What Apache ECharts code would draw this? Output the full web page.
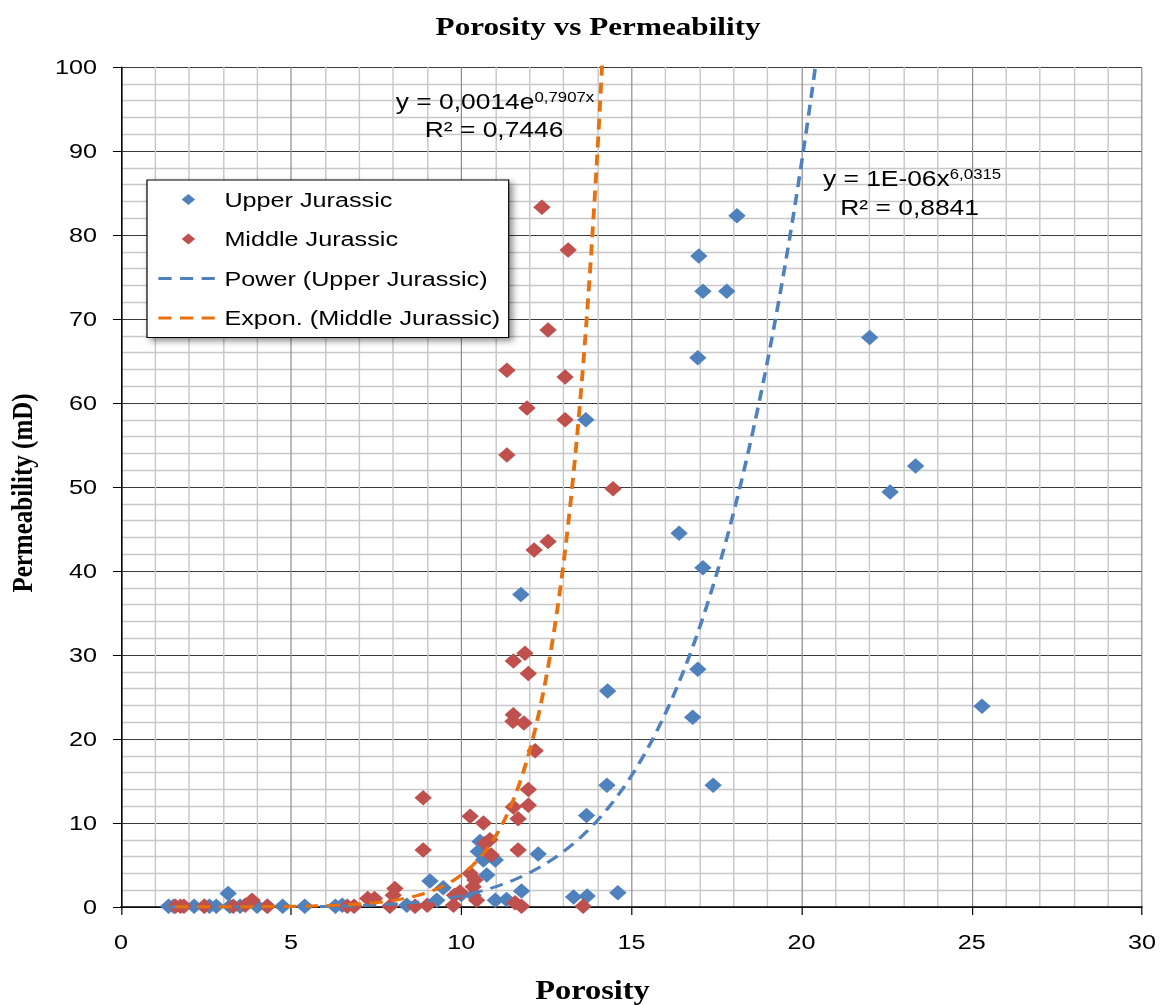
<!DOCTYPE html>
<html>
<head>
<meta charset="utf-8">
<title>Porosity vs Permeability</title>
<script src="https://cdn.jsdelivr.net/npm/echarts@6/dist/echarts.min.js"></script>
<style>
  html, body { margin: 0; padding: 0; background: #ffffff; overflow: hidden; }
  #wrap { width: 1164px; height: 1005px; overflow: hidden; }
  /* the chart is laid out on a narrower canvas and widened 1.2x */
  #chart { width: 970px; height: 1005px; transform: scaleX(1.2); transform-origin: 0 0; }
</style>
</head>
<body>
<div id="wrap"><div id="chart"></div></div>
<script>
// ---- Core samples: porosity (%) and permeability (mD) ----
const upperJurassic = [
  [1.40, 0.1], [1.55, 0.1], [2.15, 0.1], [2.45, 0.1], [2.60, 0.1], [2.80, 0.1],
  [3.15, 1.6], [3.20, 0.1], [3.50, 0.1], [4.00, 0.1], [4.30, 0.1], [4.75, 0.1],
  [5.40, 0.1], [6.30, 0.1], [6.50, 0.2], [8.40, 0.2],
  [9.08, 3.1], [9.28, 0.8], [9.47, 2.3], [10.00, 1.5], [10.35, 1.4], [10.50, 6.6],
  [10.55, 7.8], [10.65, 5.6], [10.75, 3.8], [11.00, 5.6], [11.00, 0.8], [11.33, 0.9],
  [11.75, 37.2], [11.77, 1.9], [12.26, 6.3], [13.30, 1.2], [13.68, 10.9], [13.70, 1.3],
  [13.66, 58.0], [14.28, 14.5], [14.30, 25.7], [14.60, 1.7], [16.40, 44.5], [16.80, 22.6],
  [16.95, 28.3], [16.95, 65.4], [16.98, 77.5], [17.10, 40.4], [17.10, 73.3], [17.40, 14.5],
  [17.80, 73.3], [18.10, 82.3], [22.00, 67.8], [22.60, 49.4], [23.35, 52.5], [25.30, 23.9]
];

const middleJurassic = [
  [1.60, 0.1], [1.75, 0.1], [1.85, 0.1], [2.45, 0.1], [3.30, 0.1], [3.65, 0.2],
  [3.85, 0.8], [4.30, 0.1], [6.65, 0.1], [6.85, 0.1], [7.25, 1.0], [7.45, 1.0],
  [7.90, 0.1], [8.00, 1.4], [8.05, 2.2], [8.64, 0.1], [8.88, 13.0], [8.88, 6.8],
  [9.00, 0.2], [9.77, 0.2], [9.80, 1.4], [9.96, 1.8], [10.26, 10.8], [10.26, 4.0],
  [10.35, 2.4], [10.40, 3.2], [10.45, 0.8], [10.65, 10.0], [10.70, 7.6], [10.84, 8.0],
  [10.88, 6.2], [11.34, 53.8], [11.34, 63.9], [11.53, 11.9], [11.53, 29.3], [11.53, 22.9],
  [11.52, 22.1], [11.58, 0.5], [11.67, 10.5], [11.67, 6.8], [11.77, 0.1], [11.84, 21.9],
  [11.87, 30.2], [11.93, 59.4], [11.97, 27.8], [11.97, 12.1], [11.97, 14.0], [12.14, 42.5],
  [12.17, 18.6], [12.37, 83.3], [12.55, 68.7], [12.55, 43.5], [13.05, 63.1], [13.05, 58.0],
  [13.14, 78.2], [13.58, 0.1], [14.46, 49.8]
];

// ---- Fitted trend lines ----
// power fit for Upper Jurassic (coefficient shown rounded as 1E-06 in its label)
const POWER_COEF = 1.26e-6;
const POWER_EXP = 6.0315;
// exponential fit for Middle Jurassic
const EXPON_COEF = 0.0014;
const EXPON_RATE = 0.7907;

const seriesNames = ['Upper Jurassic', 'Middle Jurassic', 'Power (Upper Jurassic)', 'Expon. (Middle Jurassic)'];
const xTicks = { min: 0, max: 30, step: 5 };
const yTicks = { min: 0, max: 100, step: 10 };

// sample a fitted curve across the x-range of its data set
function trend(points, fn) {
  const xs = points.map(p => p[0]);
  const x0 = Math.min(...xs), x1 = Math.max(...xs);
  const out = [];
  const n = 600;
  for (let i = 0; i <= n; i++) {
    const x = x0 + (x1 - x0) * i / n;
    const y = fn(x);
    out.push([x, y]);
    if (y > yTicks.max) break;
  }
  return out;
}
const powerLine = trend(upperJurassic, x => POWER_COEF * Math.pow(x, POWER_EXP));
const exponLine = trend(middleJurassic, x => EXPON_COEF * Math.exp(EXPON_RATE * x));

const BLUE = '#4F81BD';
const RED = '#C0504D';
const ORANGE = '#E8710F';
const SANS = "'Liberation Sans', Arial, sans-serif";
const SERIF = "'Liberation Serif', 'Times New Roman', serif";

// legend marker: a small diamond centred in a 50x12 icon box
// (two hair-thin corner specks fix the box so the diamond is not stretched)
const LEGEND_DIAMOND = 'path://M0,0h0.01v0.01h-0.01z M50,12h-0.01v-0.01h0.01z M25,0.4L30.6,6L25,11.6L19.4,6z';

const chart = echarts.init(document.getElementById('chart'), null, { renderer: 'svg' });

const supStyle = { fontFamily: SANS, fontSize: 14, fill: '#000', color: '#000', verticalAlign: 'top', padding: [0, 0, 6, 0] };
const mainStyle = { fontFamily: SANS, fontSize: 22, fill: '#000', color: '#000' };

chart.setOption({
  backgroundColor: '#ffffff',
  animation: false,
  title: {
    text: 'Porosity vs Permeability',
    left: 358, top: 8,
    textStyle: { fontFamily: SERIF, fontWeight: 'bold', fontSize: 26, color: '#000' }
  },
  grid: { left: 100.8, top: 67, width: 850.8, height: 840, outerBoundsMode: 'none' },
  legend: {
    orient: 'vertical',
    left: 122.5, top: 180,
    itemWidth: 50, itemHeight: 12, itemGap: 18.5,
    padding: [9, 7, 9, 8],
    backgroundColor: '#ffffff',
    borderColor: '#000000', borderWidth: 1,
    shadowBlur: 6, shadowColor: 'rgba(0,0,0,0.45)', shadowOffsetX: 3, shadowOffsetY: 3,
    selectedMode: false,
    textStyle: { fontFamily: SANS, fontSize: 21, color: '#000' },
    data: [
      { name: seriesNames[0], icon: LEGEND_DIAMOND },
      { name: seriesNames[1], icon: LEGEND_DIAMOND },
      { name: seriesNames[2], lineStyle: { width: 3 }, itemStyle: { opacity: 0 } },
      { name: seriesNames[3], lineStyle: { width: 3 }, itemStyle: { opacity: 0 } }
    ]
  },
  xAxis: {
    type: 'value',
    min: xTicks.min, max: xTicks.max, interval: xTicks.step,
    name: 'Porosity', nameLocation: 'middle', nameGap: 69,
    nameTextStyle: { fontFamily: SERIF, fontWeight: 'bold', fontSize: 27, color: '#000', padding: [0, 65, 0, 0] },
    axisLine: { onZero: false, lineStyle: { color: '#000', width: 1.5 } },
    axisTick: { show: true, length: 8, lineStyle: { color: '#000', width: 1 } },
    axisLabel: { fontFamily: SANS, fontSize: 21, color: '#000', margin: 24 },
    splitLine: { show: true, lineStyle: { color: '#8c8c8c', width: 1 } },
    minorTick: { show: false, splitNumber: 5 },
    minorSplitLine: { show: true, lineStyle: { color: '#c8c8c8', width: 1.2 } }
  },
  yAxis: {
    type: 'value',
    min: yTicks.min, max: yTicks.max, interval: yTicks.step,
    name: 'Permeability (mD)', nameLocation: 'middle', nameGap: 70,
    nameTextStyle: { fontFamily: SERIF, fontWeight: 'bold', fontSize: 25, color: '#000', padding: [0, 12, 0, 0] },
    axisLine: { onZero: false, lineStyle: { color: '#000', width: 1.25 } },
    axisTick: { show: true, length: 6.7, lineStyle: { color: '#000', width: 1 } },
    axisLabel: { fontFamily: SANS, fontSize: 21, color: '#000', margin: 20 },
    splitLine: { show: true, lineStyle: { color: '#3a3a3a', width: 1 } },
    minorTick: { show: false, splitNumber: 5 },
    minorSplitLine: { show: true, lineStyle: { color: '#c8c8c8', width: 1.4 } }
  },
  series: [
    {
      name: seriesNames[0], type: 'scatter', data: upperJurassic,
      symbol: 'diamond', symbolSize: [14.5, 15.5],
      itemStyle: { color: BLUE, opacity: 1 }, z: 3
    },
    {
      name: seriesNames[1], type: 'scatter', data: middleJurassic,
      symbol: 'diamond', symbolSize: [14.5, 15.5],
      itemStyle: { color: RED, opacity: 1 }, z: 4
    },
    {
      name: seriesNames[2], type: 'line', data: powerLine,
      showSymbol: false, symbol: 'none', smooth: false, clip: true,
      lineStyle: { color: BLUE, width: 3, type: [11, 7] },
      itemStyle: { color: BLUE }, z: 5
    },
    {
      name: seriesNames[3], type: 'line', data: exponLine,
      showSymbol: false, symbol: 'none', smooth: false, clip: true,
      lineStyle: { color: ORANGE, width: 3.2, type: [11, 7] },
      itemStyle: { color: ORANGE }, z: 6
    }
  ],
  graphic: [
    {
      type: 'text', x: 412.5, y: 101, z: 10,
      style: { text: '{m|y = 0,0014e}{s|0,7907x}', align: 'center', verticalAlign: 'middle', rich: { m: mainStyle, s: supStyle } }
    },
    {
      type: 'text', x: 411.7, y: 129, z: 10,
      style: { text: 'R² = 0,7446', align: 'center', verticalAlign: 'middle', fontFamily: SANS, fontSize: 22, fill: '#000' }
    },
    {
      type: 'text', x: 760, y: 178, z: 10,
      style: { text: '{m|y = 1E-06x}{s|6,0315}', align: 'center', verticalAlign: 'middle', rich: { m: mainStyle, s: supStyle } }
    },
    {
      type: 'text', x: 758, y: 207, z: 10,
      style: { text: 'R² = 0,8841', align: 'center', verticalAlign: 'middle', fontFamily: SANS, fontSize: 22, fill: '#000' }
    }
  ]
});
</script>
</body>
</html>
